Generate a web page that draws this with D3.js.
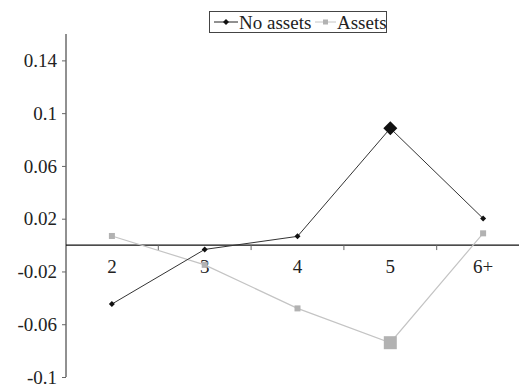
<!DOCTYPE html>
<html lang="en">
<head>
  <meta charset="utf-8">
  <script src="https://d3js.org/d3.v7.min.js"></script>
  <style>
    body, html {
      margin: 0;
      padding: 0;
      background: #fff;
    }
    text {
      font-family: "Liberation Serif", "Times New Roman", serif;
      fill: #222;
    }
  </style>
</head>
<body>
<svg id="chart" width="519" height="386"></svg>

<script>
    var categories = ["2", "3", "4", "5", "6+"];
    var noAssets = [-0.0447, -0.0033, 0.0066, 0.0885, 0.0202];
    var assets = [0.0069, -0.015, -0.048, -0.074, 0.0089];
    var yTicks = [0.14, 0.1, 0.06, 0.02, -0.02, -0.06, -0.1];
    var seriesNames = ["No assets", "Assets"];

    var svg = d3.select("#chart");

    var x = d3.scaleBand()
        .domain(categories)
        .range([65.5, 529.5]);

    var y = d3.scaleLinear()
        .domain([-0.1, 0.16])
        .range([377, 34]);

    // y axis, plain hyphen for negatives like the original
    var yAxis = svg.append("g")
        .attr("transform", "translate(66,0)")
        .call(d3.axisLeft(y).tickValues(yTicks).tickSize(4)
            .tickFormat(function(d) { return String(+d.toFixed(2)); }));
    yAxis.select(".domain").attr("d", "M0," + y(0.16) + "V" + y(-0.1)).attr("stroke", "#222");
    yAxis.selectAll(".tick line").attr("stroke", "#666");
    yAxis.selectAll(".tick text")
        .attr("x", -9)
        .style("font-size", "19px")
        .style("font-family", "Liberation Serif, serif")
        .attr("fill", "#222");

    // x axis at zero
    var x0 = y(0);
    svg.append("line")
        .attr("x1", 66).attr("x2", 519)
        .attr("y1", x0).attr("y2", x0)
        .attr("stroke", "#111").attr("stroke-width", 1.2);

    // ticks between categories
    svg.selectAll(".xtick")
        .data(categories.slice(1))
        .enter().append("line")
        .attr("x1", function(d) { return x(d); })
        .attr("x2", function(d) { return x(d); })
        .attr("y1", x0).attr("y2", x0 + 5)
        .attr("stroke", "#666");

    svg.selectAll(".xlabel")
        .data(categories)
        .enter().append("text")
        .attr("x", function(d) { return x(d) + x.bandwidth() / 2; })
        .attr("y", x0 + 28)
        .attr("text-anchor", "middle")
        .style("font-size", "19px")
        .text(function(d) { return d; });

    var line = d3.line()
        .x(function(d, i) { return x(categories[i]) + x.bandwidth() / 2; })
        .y(function(d) { return y(d); });

    // Assets series (drawn first, grey)
    svg.append("path")
        .datum(assets)
        .attr("d", line)
        .attr("fill", "none")
        .attr("stroke", "#c4c4c4")
        .attr("stroke-width", 1.2);

    svg.selectAll(".asq")
        .data(assets)
        .enter().append("rect")
        .each(function(d, i) {
            var s = i === 3 ? 13 : 6;
            d3.select(this)
                .attr("x", x(categories[i]) + x.bandwidth() / 2 - s / 2)
                .attr("y", y(d) - s / 2)
                .attr("width", s).attr("height", s);
        })
        .attr("fill", "#b2b2b2");

    // No assets series (dark)
    svg.append("path")
        .datum(noAssets)
        .attr("d", line)
        .attr("fill", "none")
        .attr("stroke", "#333")
        .attr("stroke-width", 1);

    svg.selectAll(".ndia")
        .data(noAssets)
        .enter().append("path")
        .attr("d", function(d, i) {
            var r = i === 3 ? 7 : 3;
            var cx = x(categories[i]) + x.bandwidth() / 2, cy = y(d);
            return "M" + cx + "," + (cy - r) + "L" + (cx + r) + "," + cy + "L" + cx + "," + (cy + r) + "L" + (cx - r) + "," + cy + "Z";
        })
        .attr("fill", "#111");

    // legend
    var lg = svg.append("g");
    lg.append("rect")
        .attr("x", 209.5).attr("y", 11.5)
        .attr("width", 177).attr("height", 21)
        .attr("fill", "#fff").attr("stroke", "#444");

    lg.append("line").attr("x1", 214).attr("x2", 238).attr("y1", 22).attr("y2", 22).attr("stroke", "#222");
    lg.append("path").attr("d", "M226,19L229,22L226,25L223,22Z").attr("fill", "#111");
    lg.append("text").attr("x", 239).attr("y", 28.5).style("font-size", "19px").text(seriesNames[0]);

    lg.append("line").attr("x1", 315).attr("x2", 336).attr("y1", 22).attr("y2", 22).attr("stroke", "#c4c4c4");
    lg.append("rect").attr("x", 323).attr("y", 19.5).attr("width", 5).attr("height", 5).attr("fill", "#b2b2b2");
    lg.append("text").attr("x", 337).attr("y", 28.5).style("font-size", "19px").text(seriesNames[1]);
</script>
</body>
</html>
